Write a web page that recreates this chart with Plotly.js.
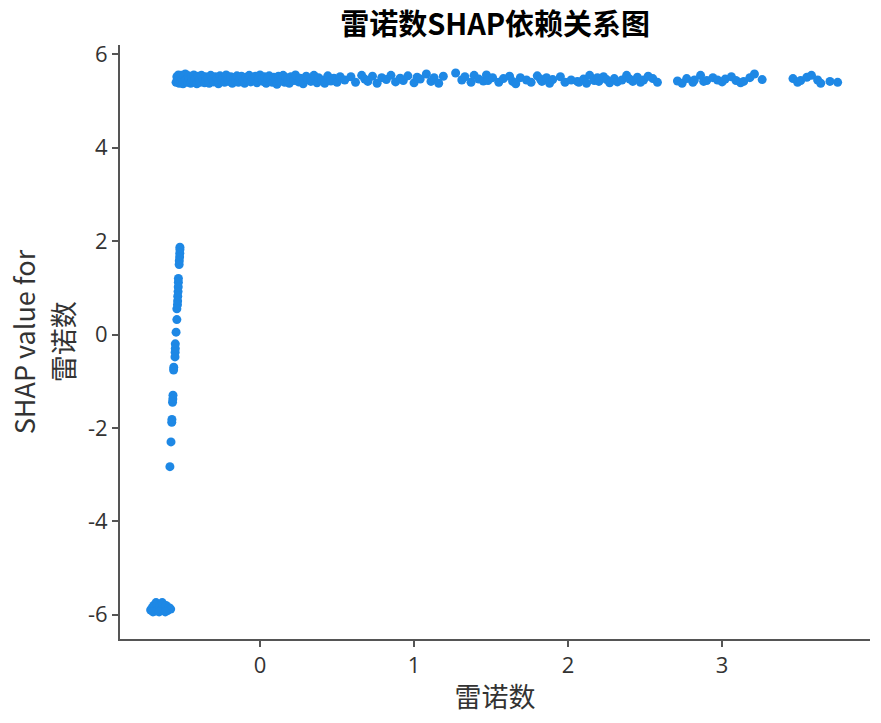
<!DOCTYPE html>
<html>
<head>
<meta charset="utf-8">
<script src="https://cdn.plot.ly/plotly-3.0.1.min.js"></script>
<style>html,body{margin:0;padding:0;background:#fff;}#chart{width:881px;height:723px;}</style>
</head>
<body>
<div id="chart"></div>
<script>
// Dense upper band (Reynolds number > about -0.55)
const bandDenseX = [-0.545,-0.54,-0.535,-0.53,-0.525,-0.52,-0.515,-0.51,-0.505,-0.50,-0.495,-0.49,-0.485,-0.48,-0.47,-0.465,-0.46,-0.45,-0.445,-0.44,-0.43,-0.425,-0.42,-0.41,-0.40,-0.395,-0.39,-0.38,-0.37,-0.36,-0.355,-0.35,-0.34,-0.33,-0.32,-0.31,-0.30,-0.29,-0.28,-0.27,-0.26,-0.25,-0.24,-0.23,-0.22,-0.21,-0.20,-0.19,-0.18,-0.17,-0.16,-0.15,-0.14,-0.13,-0.12,-0.11,-0.10,-0.09,-0.08,-0.07,-0.06,-0.05,-0.04,-0.03,-0.02,-0.01,0.00,0.01,0.02,0.03,0.04,0.05,0.06,0.07,0.08,0.09,0.10,0.11,0.12,0.13,0.14,0.15,0.16,0.17,0.18,0.19,0.20,0.22,0.23,0.25,0.26,0.28,0.30,0.31,0.33,0.35,0.37,0.38,0.40,0.42,0.44,0.46,0.48,0.50,0.52];
const bandDenseY = [5.40,5.52,5.45,5.56,5.38,5.50,5.42,5.55,5.47,5.37,5.53,5.43,5.58,5.46,5.40,5.54,5.48,5.38,5.52,5.44,5.56,5.41,5.49,5.37,5.53,5.45,5.40,5.55,5.47,5.39,5.52,5.44,5.50,5.38,5.55,5.46,5.41,5.52,5.48,5.37,5.54,5.44,5.50,5.40,5.56,5.46,5.42,5.52,5.38,5.50,5.45,5.54,5.40,5.48,5.53,5.43,5.38,5.51,5.46,5.55,5.41,5.49,5.44,5.53,5.39,5.50,5.56,5.47,5.42,5.52,5.38,5.49,5.54,5.44,5.40,5.51,5.46,5.36,5.53,5.43,5.48,5.55,5.40,5.50,5.45,5.38,5.52,5.44,5.56,5.41,5.49,5.37,5.53,5.46,5.42,5.55,5.39,5.50,5.45,5.38,5.54,5.43,5.49,5.40,5.52];
// Sparse upper band
const bandSparseX = [0.55,0.59,0.62,0.66,0.68,0.70,0.73,0.76,0.79,0.82,0.85,0.88,0.91,0.93,0.96,1.00,1.02,1.04,1.08,1.11,1.13,1.16,1.19,1.27,1.31,1.33,1.37,1.39,1.42,1.45,1.47,1.48,1.51,1.55,1.58,1.62,1.64,1.66,1.69,1.73,1.76,1.80,1.82,1.83,1.86,1.88,1.90,1.95,1.98,2.02,2.06,2.07,2.10,2.12,2.14,2.17,2.19,2.20,2.23,2.25,2.27,2.30,2.32,2.35,2.38,2.40,2.42,2.45,2.47,2.49,2.52,2.55,2.58,2.71,2.74,2.77,2.81,2.82,2.86,2.88,2.90,2.94,2.97,3.00,3.02,3.06,3.09,3.12,3.14,3.18,3.21,3.26,3.46,3.49,3.51,3.55,3.58,3.62,3.64,3.70,3.75];
const bandSparseY = [5.45,5.52,5.40,5.55,5.47,5.42,5.53,5.38,5.50,5.46,5.55,5.41,5.49,5.44,5.54,5.39,5.51,5.47,5.58,5.42,5.50,5.38,5.53,5.60,5.45,5.52,5.40,5.55,5.47,5.43,5.56,5.44,5.50,5.40,5.48,5.53,5.42,5.37,5.50,5.45,5.40,5.54,5.47,5.42,5.50,5.38,5.46,5.52,5.40,5.45,5.42,5.40,5.47,5.38,5.55,5.44,5.50,5.42,5.52,5.46,5.39,5.48,5.41,5.45,5.55,5.47,5.42,5.51,5.40,5.45,5.53,5.48,5.40,5.43,5.38,5.48,5.40,5.45,5.55,5.42,5.44,5.50,5.45,5.41,5.47,5.52,5.44,5.39,5.42,5.50,5.58,5.46,5.48,5.40,5.44,5.51,5.55,5.45,5.38,5.42,5.40];
// Steep rising column
const columnX = [-0.520,-0.520,-0.521,-0.522,-0.524,-0.525,-0.530,-0.530,-0.531,-0.532,-0.534,-0.535,-0.536,-0.540,-0.540,-0.545,-0.550,-0.550,-0.551,-0.552,-0.560,-0.561,-0.565,-0.566,-0.568,-0.572,-0.573,-0.578,-0.585];
const columnY = [1.87,1.82,1.74,1.66,1.58,1.50,1.20,1.12,1.02,0.92,0.82,0.72,0.64,0.55,0.32,0.05,-0.20,-0.30,-0.38,-0.48,-0.70,-0.76,-1.30,-1.38,-1.45,-1.82,-1.88,-2.30,-2.83];
// Low cluster
const lowX = [-0.71,-0.70,-0.69,-0.68,-0.675,-0.67,-0.66,-0.65,-0.64,-0.635,-0.63,-0.62,-0.61,-0.60,-0.59,-0.58,-0.695,-0.655,-0.615];
const lowY = [-5.90,-5.85,-5.80,-5.92,-5.74,-5.78,-5.88,-5.83,-5.90,-5.74,-5.78,-5.86,-5.80,-5.91,-5.85,-5.88,-5.94,-5.94,-5.94];

const yTickVals = [-6,-4,-2,0,2,4,6];
const yTickText = ['-6','-4','-2','0','2','4','6'];
const xTickVals = [0,1,2,3];
const xTickText = ['0','1','2','3'];
const yTitleLines = ['SHAP value for', '雷诺数'];

const allX = [].concat(lowX, columnX, bandDenseX, bandSparseX);
const allY = [].concat(lowY, columnY, bandDenseY, bandSparseY);

const trace = {
  x: allX, y: allY, type: 'scatter', mode: 'markers',
  marker: {color: '#1E88E5', size: 9, line: {width: 0}},
  hoverinfo: 'skip'
};

const tickFont = {family: 'Open Sans, Noto Sans CJK SC, sans-serif', size: 22, color: '#333333'};
const titleFont = {family: 'Noto Sans CJK SC, Open Sans, sans-serif', size: 27, color: '#333333'};

const layout = {
  width: 881, height: 723,
  margin: {l: 120, r: 11, t: 45, b: 84},
  paper_bgcolor: '#ffffff', plot_bgcolor: '#ffffff',
  showlegend: false,
  title: {text: '<b>雷诺数SHAP依赖关系图</b>', x: 0.562, xanchor: 'center', y: 0.966, yanchor: 'middle',
          font: {family: 'Noto Sans CJK SC, sans-serif', size: 29, color: '#000000'}},
  xaxis: {
    range: [-0.909, 3.96], showgrid: false, zeroline: false,
    showline: true, linecolor: '#555555', linewidth: 2,
    ticks: 'outside', ticklen: 6, tickwidth: 2, tickcolor: '#555555',
    tickvals: xTickVals, ticktext: xTickText, tickfont: tickFont,
    title: {text: '雷诺数', font: titleFont, standoff: 10}
  },
  yaxis: {
    range: [-6.52, 6.2], showgrid: false, zeroline: false,
    showline: true, linecolor: '#555555', linewidth: 2,
    ticks: 'outside', ticklen: 6, tickwidth: 2, tickcolor: '#555555',
    tickvals: yTickVals, ticktext: yTickText, tickfont: tickFont
  },
  annotations: [
    {text: yTitleLines[0], xref: 'paper', yref: 'paper', x: -0.129, y: 0.5, xanchor: 'center', yanchor: 'middle',
     textangle: -90, showarrow: false, font: titleFont},
    {text: yTitleLines[1], xref: 'paper', yref: 'paper', x: -0.077, y: 0.5, xanchor: 'center', yanchor: 'middle',
     textangle: -90, showarrow: false, font: titleFont}
  ]
};

Plotly.newPlot('chart', [trace], layout, {staticPlot: true, displayModeBar: false});
</script>
</body>
</html>
